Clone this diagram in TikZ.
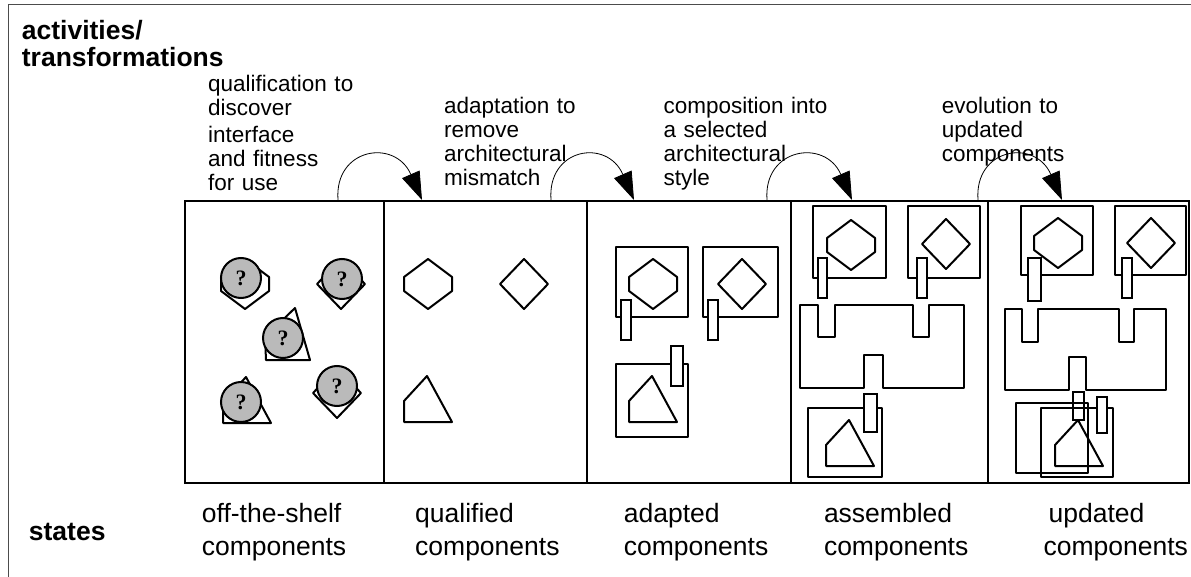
\documentclass[tikz,border=0pt]{standalone}
\usepackage{fontspec}
\setmainfont{Liberation Sans}
\newfontfamily\qmarkfont{Liberation Serif}
\usetikzlibrary{positioning, shapes, arrows.meta}

\begin{document}
\begin{tikzpicture}[
    x=1pt, y=-1pt,
    panel/.style={
        rectangle, draw=black, line width=2pt,
        inner sep=0pt, outer sep=0pt,
        anchor=north west,
        minimum height=282pt
    },
    shp/.style={draw=black, line width=2pt, line join=round},
    plug/.style={draw=black, fill=white, line width=1.8pt},
    qcirc/.style={
        circle, draw=black, line width=2pt,
        fill=black!27, minimum size=40pt, inner sep=0pt,
        font=\qmarkfont\bfseries\fontsize{22}{22}\selectfont
    },
    flow/.style={
        draw=black, line width=0.8pt,
        -{Triangle[length=28pt,width=19pt]}
    },
    activity/.style={
        anchor=base west, inner sep=0pt,
        text width=190pt, align=left,
        font=\fontsize{22.5}{24}\selectfont
    },
    state/.style={
        anchor=base west, inner sep=0pt,
        text width=190pt, align=left,
        font=\fontsize{26.5}{33}\selectfont
    },
    heading/.style={
        anchor=base west, inner sep=0pt,
        text width=250pt, align=left,
        font=\bfseries\fontsize{26.5}{27}\selectfont
    },
    hexpic/.pic={\draw[shp] (0,-25) -- (24,-7) -- (24,7) -- (0,25) -- (-24,7) -- (-24,-7) -- cycle;},
    diampic/.pic={\draw[shp] (0,-25) -- (24,0) -- (0,25) -- (-24,0) -- cycle;},
    wedgepic/.pic={\draw[shp] (0,0) -- (25,46) -- (-23,46) -- (-23,25) -- cycle;}
]
\useasboundingbox (0,0) rectangle (1191,577);

% Frame
\draw[black!70, line width=1pt] (8,577) -- (8,5) -- (1191,5);

% Headings
\node[heading] (acts) at (21.7,39.3) {activities/\\transformations};
\node[heading] (states) at (28.7,540) {states};

% Activities
\node[activity] (qual) at (208,92)
{qualification to\\discover\\[3pt]interface\\and fitness\\for use};
\node[activity] (adapt) at (444,113.3)
{adaptation to\\remove\\architectural\\mismatch};
\node[activity] (compo) at (663.3,113.3)
{composition into\\a selected\\architectural\\style};
\node[activity] (evol) at (941.7,113.3)
{evolution to\\updated\\components};

% States
\node[panel, minimum width=199pt] (p1) at (185,201) {};
\node[panel, minimum width=203pt, right=0pt of p1] (p2) {};
\node[panel, minimum width=204pt, right=0pt of p2] (p3) {};
\node[panel, minimum width=197pt, right=0pt of p3] (p4) {};
\node[panel, minimum width=201pt, right=0pt of p4] (p5) {};

\node[state] (s1) at (201.7,522) {off-the-shelf\\components};
\node[state] (s2) at (415,522) {qualified\\components};
\node[state] (s3) at (623.7,522) {adapted\\components};
\node[state] (s4) at (823.8,522) {assembled\\components};
\node[state] (s5) at (1043.4,522) {\hspace*{5pt}updated\\components};

% Transformation arrows
\coordinate (a1) at (338,200);
\coordinate (b1) at (422,200);
\coordinate (a2) at (551,200);
\coordinate (b2) at (634,200);
\coordinate (a3) at (767,200);
\coordinate (b3) at (852,200);
\coordinate (a4) at (978,200);
\coordinate (b4) at (1062,200);
\draw[flow] (a1) .. controls +(-4,-52) and +(-27,-62) .. (b1);
\draw[flow] (a2) .. controls +(-4,-52) and +(-27,-62) .. (b2);
\draw[flow] (a3) .. controls +(-4,-52) and +(-27,-62) .. (b3);
\draw[flow] (a4) .. controls +(-4,-52) and +(-27,-62) .. (b4);

% Off-the-shelf components
\pic at (245,284) {hexpic};
\pic at (341,284) {diampic};
\draw[shp] (295,308) -- (310,360) -- (266,360) -- (265,337) -- cycle;
\pic at (246,377) {wedgepic};
\pic at (337,393) {diampic};
\node[qcirc] (u1) at (241,278) {?};
\node[qcirc] (u2) at (342,279) {?};
\node[qcirc] (u3) at (283,338) {?};
\node[qcirc] (u4) at (241,402) {?};
\node[qcirc] (u5) at (337,386) {?};

% Qualified components
\pic at (428,284) {hexpic};
\pic at (524,284) {diampic};
\pic at (427,376) {wedgepic};

% Adapted components
\draw[shp] (616,247) rectangle (688,317);
\draw[shp] (703,247) rectangle (778,317);
\draw[shp] (616,364) rectangle (688,437);
\pic at (653,284) {hexpic};
\pic at (742,284) {diampic};
\pic at (652,376) {wedgepic};
\draw[plug] (621,300) rectangle (631,340);
\draw[plug] (708,300) rectangle (718,340);
\draw[plug] (671,346) rectangle (683,386);

% Assembled components
\draw[shp] (813,206) rectangle (886,278);
\draw[shp] (908,206) rectangle (980,278);
\draw[shp] (808,408) rectangle (882,477);
\pic at (851,245) {hexpic};
\pic at (946,244) {diampic};
\pic at (849,420) {wedgepic};
\draw[shp] (800,305) -- (818,305) -- (818,337) -- (835,337) -- (835,305)
    -- (913,305) -- (913,337) -- (929,337) -- (929,305) -- (964,305)
    -- (964,388) -- (883,388) -- (883,355) -- (864,355) -- (864,388)
    -- (800,388) -- cycle;
\draw[plug] (818,258) rectangle (827,298);
\draw[plug] (917,258) rectangle (927,298);
\draw[plug] (864,394) rectangle (877,432);

% Updated components
\draw[shp] (1021,206) rectangle (1093,275);
\draw[shp] (1115,206) rectangle (1186,275);
\draw[shp] (1016,403) rectangle (1088,473);
\draw[shp] (1041,408) rectangle (1113,477);
\pic at (1058,243) {hexpic};
\pic at (1151,243) {diampic};
\pic at (1078,420) {wedgepic};
\draw[shp] (1005,309) -- (1022,309) -- (1022,342) -- (1038,342) -- (1038,309)
    -- (1119,309) -- (1119,342) -- (1134,342) -- (1134,309) -- (1166,309)
    -- (1166,390) -- (1086,390) -- (1086,357) -- (1069,357) -- (1069,390)
    -- (1005,390) -- cycle;
\draw[plug] (1028,258) rectangle (1041,301);
\draw[plug] (1122,258) rectangle (1132,298);
\draw[plug, fill=none] (1073,392) rectangle (1084,420);
\draw[plug] (1097,397) rectangle (1107,433);

\end{tikzpicture}
\end{document}
